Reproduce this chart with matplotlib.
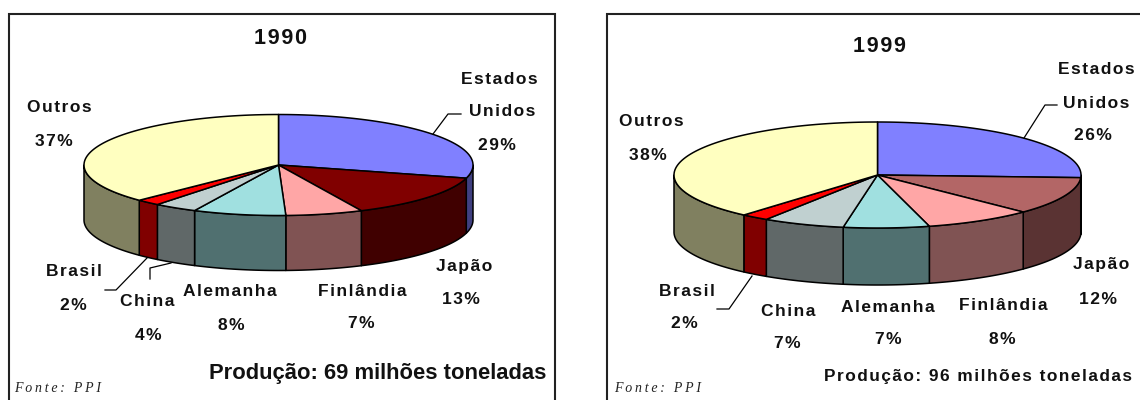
import numpy as np
import matplotlib
matplotlib.use("Agg")
import matplotlib.pyplot as plt
from matplotlib.patches import Polygon

plt.rcParams['font.family'] = ['Liberation Sans', 'DejaVu Sans']

# Werte (Reihenfolge im Uhrzeigersinn ab 12 Uhr)
countries = ["Estados Unidos", "Japão", "Finlândia", "Alemanha", "China", "Brasil", "Outros"]
values_1990 = [29.2, 13.8, 6.4, 7.7, 3.6, 2.0, 37.3]
values_1999 = [25.8, 11.5, 8.6, 6.8, 6.5, 2.2, 38.6]
pct_1990 = ["29%", "13%", "7%", "8%", "4%", "2%", "37%"]
pct_1999 = ["26%", "12%", "8%", "7%", "7%", "2%", "38%"]

top_1990 = ["#8080FF", "#800000", "#FFA6A6", "#A0E0E0", "#C0D0D0", "#FF0000", "#FFFFC0"]
side_1990 = ["#404080", "#400000", "#805353", "#507070", "#606868", "#800000", "#808060"]
top_1999 = ["#8080FF", "#B36666", "#FFA6A6", "#A0E0E0", "#C0D0D0", "#FF0000", "#FFFFC0"]
side_1999 = ["#404080", "#5A3333", "#805353", "#507070", "#606868", "#800000", "#808060"]

# Labelpositionen in Pixel, (Name, Prozent) je Land
pos_1990 = [((499, 80), (502, 112), (497, 145)), ((464, 266), (461, 299)), ((362, 291), (361, 324)),
            ((230, 292), (231, 326)), ((147, 302), (148, 336)), ((74, 272), (73, 305)), ((59, 108), (54, 142))]
pos_1999 = [((1096, 70), (1096, 104), (1093, 136)), ((1101, 265), (1098, 299)), ((1003, 305), (1002, 339)),
            ((888, 307), (888, 339)), ((788, 312), (787, 344)), ((687, 291), (684, 324)), ((651, 121), (648, 155))]


def spaced(s, gap="\u200a"):
    # Sperrsatz wie im Original
    return gap.join(s)


def draw_pie(ax, cx, cy, rx, ry, depth, values, tops, sides):
    edges = np.cumsum([0] + values) / np.sum(values) * 2 * np.pi
    # Seitenflaechen zuerst, nur die vordere Haelfte ist sichtbar
    for i in range(len(values)):
        a = max(edges[i], np.pi / 2)
        b = min(edges[i + 1], 3 * np.pi / 2)
        if b > a:
            t = np.linspace(a, b, 60)
            x = cx + rx * np.sin(t)
            y = cy - ry * np.cos(t)
            pts = np.r_[np.c_[x, y], np.c_[x, y + depth][::-1]]
            ax.add_patch(Polygon(pts, facecolor=sides[i], edgecolor="black", lw=1.1, joinstyle="round"))
    for i in range(len(values)):
        t = np.linspace(edges[i], edges[i + 1], 80)
        pts = np.r_[[[cx, cy]], np.c_[cx + rx * np.sin(t), cy - ry * np.cos(t)]]
        ax.add_patch(Polygon(pts, facecolor=tops[i], edgecolor="black", lw=1.1, joinstyle="round"))


def draw_labels(ax, pos, pct):
    for name, p, where in zip(countries, pct, pos):
        words = name.split() if len(where) == 3 else [name]
        for w, xy in zip(words + [p], where):
            ax.text(xy[0], xy[1], spaced(w), ha="center", va="center", fontsize=12.5, fontweight="bold", color="#111111")


fig = plt.figure(figsize=(11.4, 4), dpi=100)
ax = fig.add_axes([0, 0, 1, 1])
ax.set_xlim(0, 1140)
ax.set_ylim(400, 0)
ax.axis("off")

# Rahmen
ax.plot([8.7, 8.7, 555.3, 555.3], [400, 13.5, 13.5, 400], color="#222222", lw=1.5, solid_joinstyle="miter")
ax.plot([607, 607, 1140], [400, 13.5, 13.5], color="#222222", lw=1.5, solid_joinstyle="miter")

draw_pie(ax, 278.5, 165, 194.5, 50.5, 55, values_1990, top_1990, side_1990)
draw_pie(ax, 877.5, 175, 203.5, 53, 57, values_1999, top_1999, side_1999)

# Fuehrungslinien
ax.plot([433, 448, 461], [134, 114, 114], color="black", lw=0.9)
ax.plot([147, 116, 105], [258, 290, 290], color="black", lw=0.9)
ax.plot([171, 150, 150], [263, 268, 279], color="black", lw=0.9)
ax.plot([1024, 1045, 1057], [138, 105, 105], color="black", lw=0.9)
ax.plot([752, 729, 717], [276, 309, 309], color="black", lw=0.9)

draw_labels(ax, pos_1990, pct_1990)
draw_labels(ax, pos_1999, pct_1999)

ax.text(281, 38, spaced("1990"), ha="center", va="center", fontsize=15.5, fontweight="bold", color="#111111")
ax.text(879, 46, spaced("1999"), ha="center", va="center", fontsize=15.5, fontweight="bold", color="#111111")
ax.text(377.5, 374, "Produção: 69 milhões toneladas", ha="center", va="center", fontsize=15.8, fontweight="bold", color="#111111")
ax.text(978, 376, spaced("Produção: 96 milhões toneladas"), ha="center", va="center", fontsize=12.4, fontweight="bold", color="#111111")

for x in (14, 614):
    ax.text(x, 388, spaced("Fonte: PPI", "\u2009"), ha="left", va="center", fontsize=10, style="italic",
            family=["Liberation Serif", "DejaVu Serif"], color="#222222")

fig.savefig("out.png", dpi=100)
